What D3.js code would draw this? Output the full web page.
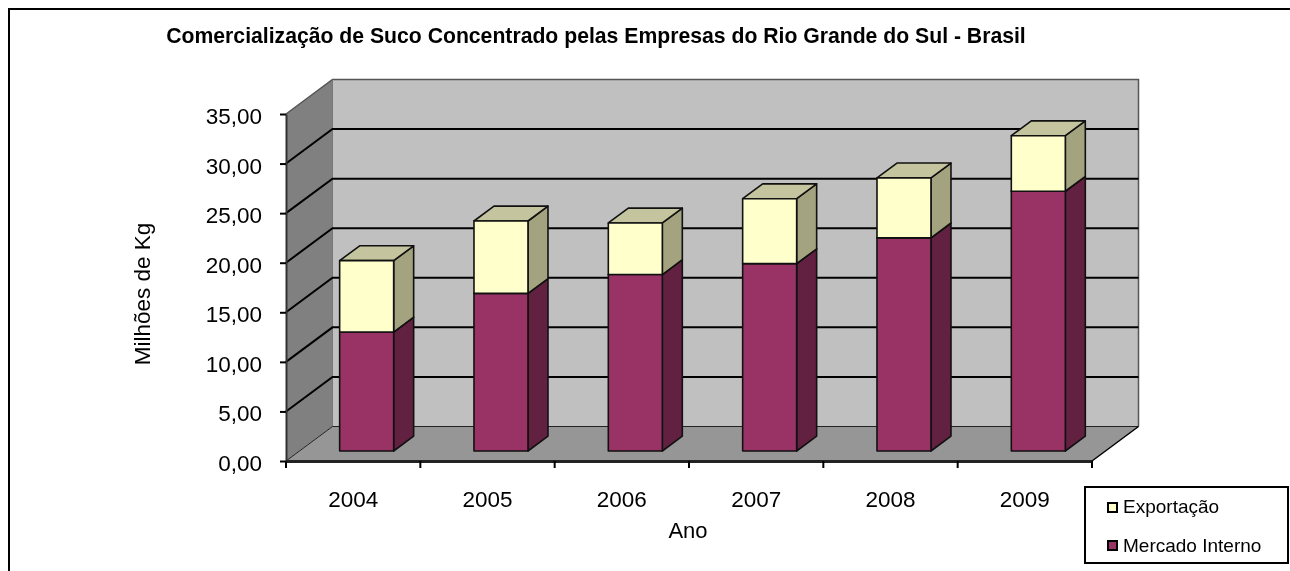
<!DOCTYPE html>
<html>
<head>
<meta charset="utf-8">
<script src="https://d3js.org/d3.v7.min.js"></script>
<style>
  html, body { margin: 0; padding: 0; background: #fff; overflow: hidden; }
  svg { display: block; filter: blur(0.35px); }
  text { font-family: "Liberation Sans", Arial, sans-serif; fill: #000; }
</style>
</head>
<body>
<svg id="chart" width="1290" height="571"></svg>
<script>
const anos = ["2004", "2005", "2006", "2007", "2008", "2009"];
const mercadoInterno = [12.0, 15.9, 17.8, 18.9, 21.5, 26.2];
const exportacao = [7.2, 7.3, 5.2, 6.55, 6.05, 5.6];
const yTicks = [0, 5, 10, 15, 20, 25, 30, 35];
const legendItems = ["Exportação", "Mercado Interno"];

const colors = {
  interno: {front: "#993366", side: "#622140", top: "#7a2950"},
  exportacao: {front: "#FFFFCC", side: "#A3A380", top: "#C4C49E"},
  backWall: "#C0C0C0",
  sideWall: "#808080",
  floor: "#969696"
};

// plot box on the front plane and the oblique depth of the 3D walls
const plot = {left: 286, right: 1092, top: 114, bottom: 461};
const depth = {dx: 46.5, dy: -34.5};
const barDepthStart = 0.29, barDepthSize = 0.43;

const svg = d3.select("#chart");

// outer chart border runs off the right and bottom of the picture
svg.append("rect")
  .attr("x", 9).attr("y", 9).attr("width", 1400).attr("height", 700)
  .attr("fill", "#fff").attr("stroke", "#000").attr("stroke-width", 2);

const x = d3.scaleBand().domain(anos).range([plot.left, plot.right]);
const y = d3.scaleLinear().domain([0, 35]).range([plot.bottom, plot.top]);

const pts = arr => arr.map(p => p.join(",")).join(" ");

// walls and floor
const y0 = y(0), y35 = y(35);
svg.append("polygon")
  .attr("points", pts([[plot.left + depth.dx, y35 + depth.dy], [plot.right + depth.dx, y35 + depth.dy], [plot.right + depth.dx, y0 + depth.dy], [plot.left + depth.dx, y0 + depth.dy]]))
  .attr("fill", colors.backWall);
svg.append("polygon")
  .attr("points", pts([[plot.left, y35], [plot.left + depth.dx, y35 + depth.dy], [plot.left + depth.dx, y0 + depth.dy], [plot.left, y0]]))
  .attr("fill", colors.sideWall);
svg.append("polygon")
  .attr("points", pts([[plot.left, y0], [plot.left + depth.dx, y0 + depth.dy], [plot.right + depth.dx, y0 + depth.dy], [plot.right, y0]]))
  .attr("fill", colors.floor);

// wall outlines
svg.append("path")
  .attr("d", `M${plot.left},${y35}L${plot.left + depth.dx},${y35 + depth.dy}H${plot.right + depth.dx}V${y0 + depth.dy}`)
  .attr("fill", "none").attr("stroke", "#555").attr("stroke-width", 1.5);
svg.append("path")
  .attr("d", `M${plot.left + depth.dx},${y35 + depth.dy}V${y0 + depth.dy}`)
  .attr("fill", "none").attr("stroke", "#777").attr("stroke-width", 1);
svg.append("path")
  .attr("d", `M${plot.left},${y0}L${plot.left + depth.dx},${y0 + depth.dy}H${plot.right + depth.dx}`)
  .attr("fill", "none").attr("stroke", "#222").attr("stroke-width", 1);
svg.append("path")
  .attr("d", `M${plot.right + depth.dx},${y0 + depth.dy}L${plot.right},${y0}`)
  .attr("fill", "none").attr("stroke", "#000").attr("stroke-width", 1.5);

// gridlines, front tick -> back wall -> right edge
svg.append("g").selectAll("path")
  .data(yTicks.filter(d => d > 0 && d < 35))
  .enter().append("path")
    .attr("d", d => `M${plot.left},${y(d)}L${plot.left + depth.dx},${y(d) + depth.dy}H${plot.right + depth.dx}`)
    .attr("fill", "none").attr("stroke", "#000").attr("stroke-width", 2);

// axes
const fmt = d => d3.format(".2f")(d).replace(".", ",");
const yAxis = svg.append("g")
  .attr("transform", `translate(${plot.left},0)`)
  .call(d3.axisLeft(y).tickValues(yTicks).tickFormat(fmt).tickSize(6).tickSizeOuter(0).tickPadding(18));
yAxis.selectAll(".tick text").attr("dy", "0.42em");
const xAxis = svg.append("g")
  .attr("transform", `translate(0,${plot.bottom})`)
  .call(d3.axisBottom(x).tickSize(0).tickPadding(46));
xAxis.selectAll(".tick text").attr("dy", 0);

// x ticks sit on the band edges, not the band centres
xAxis.selectAll(".edge")
  .data(anos.concat("end"))
  .enter().append("line")
    .attr("class", "edge")
    .attr("x1", (d, i) => plot.left + i * x.bandwidth())
    .attr("x2", (d, i) => plot.left + i * x.bandwidth())
    .attr("y1", 0).attr("y2", 7)
    .attr("stroke", "#000").attr("stroke-width", 2);

[yAxis, xAxis].forEach(a => {
  a.selectAll("text").style("font-family", '"Liberation Sans"').style("font-size", "22.5px").attr("fill", "#000");
  a.selectAll(".tick line").attr("stroke", "#000").attr("stroke-width", 2);
});
yAxis.select(".domain").attr("stroke", "#333").attr("stroke-width", 2);
xAxis.select(".domain").attr("stroke", "#222").attr("stroke-width", 3);

// stacked boxes
const barWidth = 54;
const stack = d3.stack().keys(["interno", "exportacao"])(
  anos.map((a, i) => ({ano: a, interno: mercadoInterno[i], exportacao: exportacao[i]}))
);

const off = {x: depth.dx * barDepthStart, y: depth.dy * barDepthStart};
const sz = {x: depth.dx * barDepthSize, y: depth.dy * barDepthSize};

stack.forEach(s => {
  const c = colors[s.key];
  const g = svg.append("g").attr("class", s.key);
  s.forEach(d => {
    const x0 = x(d.data.ano) + (x.bandwidth() - barWidth) / 2 + off.x;
    const x1 = x0 + barWidth;
    const yb = y(d[0]) + off.y, yt = y(d[1]) + off.y;
    g.append("polygon")
      .attr("points", pts([[x1, yt], [x1 + sz.x, yt + sz.y], [x1 + sz.x, yb + sz.y], [x1, yb]]))
      .attr("fill", c.side);
    g.append("polygon")
      .attr("points", pts([[x0, yt], [x0 + sz.x, yt + sz.y], [x1 + sz.x, yt + sz.y], [x1, yt]]))
      .attr("fill", c.top);
    g.append("rect")
      .attr("x", x0).attr("y", yt).attr("width", barWidth).attr("height", yb - yt)
      .attr("fill", c.front);
    g.selectAll("polygon, rect")
      .attr("stroke", "#111").attr("stroke-width", 1.6).attr("stroke-linejoin", "round");
  });
});

// titles
svg.append("text")
  .attr("x", 596).attr("y", 43).attr("text-anchor", "middle")
  .style("font-size", "21.2px").style("font-weight", "bold")
  .text("Comercialização de Suco Concentrado pelas Empresas do Rio Grande do Sul - Brasil");
svg.append("text")
  .attr("x", 688).attr("y", 538).attr("text-anchor", "middle")
  .style("font-size", "22px").text("Ano");
svg.append("text")
  .attr("transform", "translate(150,294) rotate(-90)").attr("text-anchor", "middle")
  .style("font-size", "22.5px").text("Milhões de Kg");

// legend
const legend = svg.append("g").attr("transform", "translate(1085,487)");
legend.append("rect")
  .attr("width", 203).attr("height", 76)
  .attr("fill", "#fff").attr("stroke", "#000").attr("stroke-width", 2);
const legendColors = [colors.exportacao.front, colors.interno.front];
const row = legend.selectAll(".row").data(legendItems).enter().append("g")
  .attr("class", "row")
  .attr("transform", (d, i) => `translate(0,${i === 0 ? 20 : 58})`);
row.append("rect")
  .attr("x", 23).attr("y", -4).attr("width", 9).attr("height", 9)
  .attr("fill", (d, i) => legendColors[i])
  .attr("stroke", "#000").attr("stroke-width", 2);
row.append("text")
  .attr("x", 38).attr("y", (d, i) => i === 0 ? 6 : 7)
  .style("font-size", "19px")
  .text(d => d);
</script>
</body>
</html>
